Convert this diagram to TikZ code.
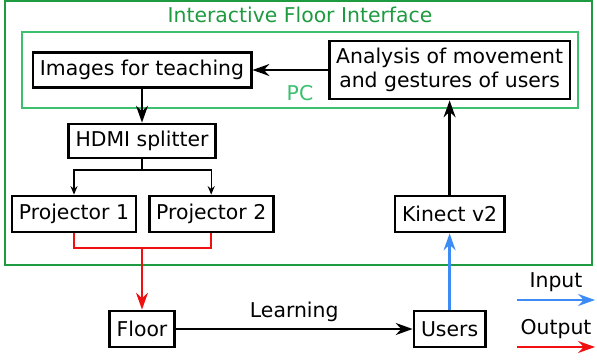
\documentclass[tikz,border=0pt]{standalone}
\usepackage{fontspec}
\setmainfont{DejaVu Sans}
\usetikzlibrary{arrows.meta, positioning}
\definecolor{framegreen}{HTML}{1E9A40}
\definecolor{pcgreen}{HTML}{3CC070}
\definecolor{inblue}{HTML}{3D8BF5}
\definecolor{outred}{HTML}{F01010}

\begin{document}
\begin{tikzpicture}[>={Stealth[length=12pt,width=8.5pt]},
    box/.style={draw, line width=2pt, inner xsep=5pt, minimum height=0.875cm,
      font=\fontsize{14.5}{17.5}\selectfont, align=center},
    link/.style={->, line width=1.6pt},
    lbl/.style={font=\fontsize{14.5}{17.5}\selectfont, text=black}]
  \useasboundingbox (0,0) rectangle (14.925,9);
  % outer frame and the PC frame inside it
  \draw[framegreen, line width=1.5pt] (0.125,2.375) rectangle (14.8,8.975);
  \node[lbl, text=framegreen] (title) at (7.5,8.625) {Interactive Floor Interface};
  \draw[pcgreen, line width=1.6pt] (0.55,6.3) rectangle (14.45,8.2);
  \node[lbl, text=pcgreen] (pc) at (7.5,6.675) {PC};
  % boxes
  \node[box] (img) at (3.55,7.25) {Images for teaching};
  \node[box, minimum height=1.45cm] (ana) at (11.24,7.25) {Analysis of movement\\and gestures of users};
  \node[box, minimum height=0.85cm] (hdmi) at (3.55,5.475) {HDMI splitter};
  \node[box, minimum height=0.9cm] (pj1) at (1.85,3.65) {Projector 1};
  \node[box, minimum height=0.9cm] (pj2) at (5.28,3.65) {Projector 2};
  \node[box, minimum height=0.9cm] (kin) at (11.24,3.65) {Kinect v2};
  \node[box, minimum height=0.9cm] (floor) at (3.55,0.775) {Floor};
  \node[box, minimum height=0.9cm] (users) at (11.24,0.775) {Users};
  % inside the PC
  \draw[link] (ana) -- (img);
  \draw[link] (img) -- (hdmi);
  % splitter to both projectors
  \coordinate (split) at (3.55,4.75);
  \draw[line width=1.6pt] (hdmi) -- (split);
  \draw[-{Stealth[length=6pt,width=5pt]}, line width=1pt] (split) -| (pj1);
  \draw[-{Stealth[length=6pt,width=5pt]}, line width=1pt] (split) -| (pj2);
  % projectors onto the floor
  \coordinate (merge) at (3.55,2.8);
  \draw[outred, line width=1.6pt] (pj1) |- (merge) -| (pj2);
  \draw[link, outred] (merge) -- (floor);
  % floor to users
  \draw[link] (floor) -- node[lbl, above=1pt] {Learning} (users);
  % users seen by the kinect
  \draw[link, inblue] (users) -- (kin);
  \draw[link] (kin) -- (ana);
  % legend
  \coordinate (inA) at (12.925,1.5);
  \coordinate (inB) at (14.875,1.5);
  \coordinate (outA) at (12.925,0.325);
  \coordinate (outB) at (14.875,0.325);
  \draw[link, inblue] (inA) -- node[lbl, above=2pt] {Input} (inB);
  \draw[link, outred] (outA) -- node[lbl, above=2pt] {Output} (outB);
\end{tikzpicture}
\end{document}
